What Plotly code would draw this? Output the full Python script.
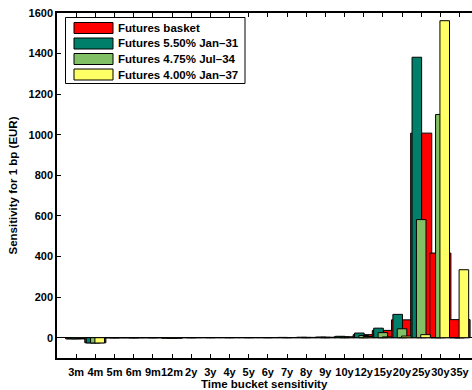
import plotly.graph_objects as go

# Time buckets on the x axis
buckets = ["3m", "4m", "5m", "6m", "9m", "12m", "2y", "3y", "4y", "5y", "6y",
           "7y", "8y", "9y", "10y", "12y", "15y", "20y", "25y", "30y", "35y"]

# Sensitivity for 1 bp (EUR) per bucket
basket = [-6, -25, 0.5, 0.5, 0.5, -2, 1, 1, 1, 1, 1, 1, 1.5, 2, 4, 15, 36, 88, 1008, 417, 89]
fut_jan31 = [-5, -26, 0, 0, 0.5, -1, 1, 1, 1, 1, 1, 1.5, 2, 3, 7, 23, 47, 115, 1382, 0, 0]
fut_jul34 = [-5, -26, 0, 0, 0.5, -2, 0.5, 1, 1, 1, 1, 1, 1.5, 2, 4, 11, 25, 44, 582, 1100, 0]
fut_jan37 = [-4, -26, 0, 0, 0.5, -2, 0.5, 1, 1, 1, 1, 1, 1, 1.5, 3, 6, 4, 8, 15, 1562, 335]

names = ["Futures basket", "Futures 5.50% Jan\u201331",
         "Futures 4.75% Jul\u201334", "Futures 4.00% Jan\u201337"]
colors = ["#ff0000", "#00806a", "#82c066", "#ffff66"]

W, H = 472, 390
ML, MR, MT, MB = 57, 0, 13, 32
FONT = "Liberation Sans, Arial, sans-serif"

fig = go.Figure()

# Wide basket bars underneath, narrower grouped bars for each future on top
series = [basket, fut_jan31, fut_jul34, fut_jan37]
widths = [1.1, 0.5, 0.5, 0.5]
centers = [0.0, -0.227, 0.0, 0.227]
for vals, name, col, w, c in zip(series, names, colors, widths, centers):
    fig.add_trace(go.Bar(
        x=buckets, y=vals, name=name,
        width=w, offset=c - w / 2,
        marker=dict(color=col, line=dict(color="black", width=1)),
        showlegend=False,
    ))


def px_x(p):
    return (p - ML) / (W - ML - MR)


def px_y(p):
    return (H - MB - p) / (H - MT - MB)


# Legend box drawn with wide swatches
shapes = [dict(type="rect", xref="paper", yref="paper",
               x0=px_x(65.5), x1=px_x(245), y0=px_y(83.5), y1=px_y(17.5),
               fillcolor="white", line=dict(color="black", width=1))]
annotations = []
row0, row_step = 28.0, 15.5
for i, (name, col) in enumerate(zip(names, colors)):
    cy = row0 + i * row_step
    shapes.append(dict(type="rect", xref="paper", yref="paper",
                       x0=px_x(74), x1=px_x(113), y0=px_y(cy + 5.5), y1=px_y(cy - 5.5),
                       fillcolor=col, line=dict(color="black", width=1)))
    annotations.append(dict(xref="paper", yref="paper", x=px_x(116), y=px_y(cy),
                            xanchor="left", yanchor="middle", showarrow=False,
                            text=name, font=dict(family=FONT, size=11.5,
                                                 color="black", weight="bold")))

# Axis title for the time buckets, placed under the tick labels
annotations.append(dict(xref="paper", yref="paper", x=0.5, y=px_y(384),
                        xanchor="center", yanchor="middle", showarrow=False,
                        text="Time bucket sensitivity",
                        font=dict(family=FONT, size=11.5, color="black", weight="bold")))

fig.update_layout(
    width=W, height=H,
    margin=dict(l=ML, r=MR, t=MT, b=MB),
    barmode="overlay",
    plot_bgcolor="white", paper_bgcolor="white",
    font=dict(family=FONT, size=11, color="black", weight="bold"),
    shapes=shapes, annotations=annotations,
)
fig.update_xaxes(
    type="category", range=[-1, 20.65],
    showline=True, linecolor="black", linewidth=1.5, mirror="ticks",
    ticks="inside", ticklen=4, tickcolor="black",
    showgrid=False, zeroline=False,
    tickangle=0, ticklabelstandoff=3,
    automargin=False,
)
fig.update_yaxes(
    range=[-100, 1600], tickvals=list(range(0, 1601, 200)),
    showline=True, linecolor="black", linewidth=1.5,
    ticks="inside", ticklen=4, tickcolor="black",
    showgrid=False, zeroline=True, zerolinecolor="black", zerolinewidth=1,
    title=dict(text="Sensitivity for 1 bp (EUR)", standoff=9,
               font=dict(size=11.5, weight="bold")),
    automargin=False,
)

fig.write_html("out.html")
